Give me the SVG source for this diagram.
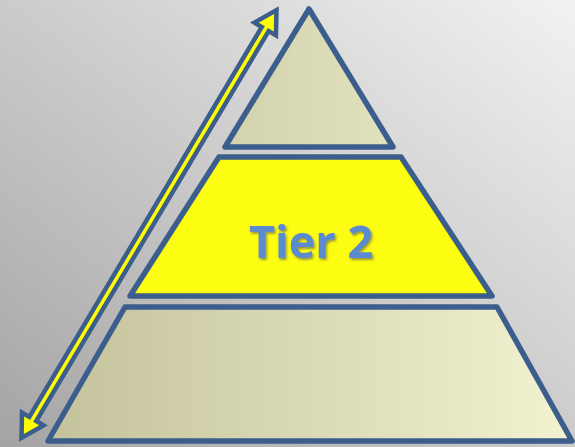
<svg xmlns="http://www.w3.org/2000/svg" width="575" height="447" viewBox="0 0 575 447">
<defs>
<linearGradient id="bg" x1="0" y1="1" x2="1" y2="0">
<stop offset="0" stop-color="#a4a4a4"/>
<stop offset="1" stop-color="#f2f2f2"/>
</linearGradient>
<linearGradient id="tan" gradientUnits="userSpaceOnUse" x1="48" y1="0" x2="572" y2="0">
<stop offset="0" stop-color="#c3c29c"/>
<stop offset="1" stop-color="#f3f2d1"/>
</linearGradient>
<filter id="sh" x="-10%" y="-10%" width="130%" height="140%">
<feDropShadow dx="1.5" dy="2" stdDeviation="1" flood-color="#555" flood-opacity="0.6"/>
</filter>
<style>
.tier{stroke:#3b5e8c;stroke-width:5.5;stroke-linejoin:round}
.tan{fill:url(#tan)}
.lbl{font-family:"Open Sans","Liberation Sans",Arial,sans-serif;font-weight:bold;font-size:45px;fill:#5a8bd0}
</style>
</defs>
<rect width="575" height="447" fill="url(#bg)"/>
<g id="tier3"><polygon class="tier tan" points="125,307 497,307 572,441 48,441"/></g>
<g id="tier2"><polygon class="tier" fill="#fdfd12" points="219,157 401,157 492,296 130,296"/>
<text class="lbl" x="311" y="258" text-anchor="middle" filter="url(#sh)">Tier 2</text></g>
<g id="tier1"><polygon class="tier tan" points="309,9 393,147 225,147"/></g>
<g id="connectors">
<polygon transform="translate(149,224) rotate(-59.2)" fill="#ffff00" stroke="#3b5e8c" stroke-width="4.5" stroke-linejoin="miter" points="-249,0 -227,-12.5 -227,-4 227,-4 227,-12.5 249,0 227,12.5 227,4 -227,4 -227,12.5"/>
</g>
</svg>
